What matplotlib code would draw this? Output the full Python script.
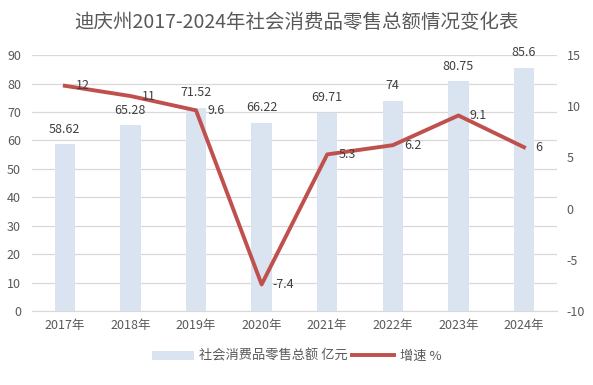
import matplotlib
matplotlib.use('Agg')
import matplotlib.pyplot as plt
import numpy as np

plt.rcParams['font.family'] = ['Noto Sans CJK SC', 'DejaVu Sans']
plt.rcParams['axes.unicode_minus'] = False

years = ['2017年', '2018年', '2019年', '2020年', '2021年', '2022年', '2023年', '2024年']
sales = [58.62, 65.28, 71.52, 66.22, 69.71, 74, 80.75, 85.6]
growth = [12, 11, 9.6, -7.4, 5.3, 6.2, 9.1, 6]
sales_labels = ['58.62', '65.28', '71.52', '66.22', '69.71', '74', '80.75', '85.6']
growth_labels = ['12', '11', '9.6', '-7.4', '5.3', '6.2', '9.1', '6']

txt = '#595959'
bar_c = '#dae3f0'
line_c = '#c0504d'

fig = plt.figure(figsize=(5.93, 3.85), dpi=100)
ax = fig.add_axes([0.054, 0.192, 0.885, 0.665])
ax2 = ax.twinx()

x = np.arange(len(years))
bars = ax.bar(x, sales, width=0.31, color=bar_c, label='社会消费品零售总额 亿元', zorder=2)
ax.set_ylim(0, 90)
ax.set_yticks(range(0, 91, 10))
ax.set_xlim(-0.5, len(years) - 0.5)
ax.set_xticks(x)
ax.set_xticklabels(years)
ax.grid(axis='y', color='#d9d9d9', linewidth=0.9, zorder=0)
ax.set_axisbelow(True)
for xi, v, s in zip(x, sales, sales_labels):
    ax.annotate(s, (xi, v), xytext=(0, 6), textcoords='offset points',
                ha='center', va='bottom', fontsize=9, color='#404040')

ln, = ax2.plot(x, growth, color=line_c, linewidth=2.8, label='增速 %', zorder=3)
ax2.set_ylim(-10, 15)
ax2.set_yticks(range(-10, 16, 5))
for xi, v, s in zip(x, growth, growth_labels):
    ax2.annotate(s, (xi, v), xytext=(8, 0), textcoords='offset points',
                 ha='left', va='center', fontsize=9, color='#404040')

for a in (ax, ax2):
    for sp in a.spines.values():
        sp.set_visible(False)
    a.tick_params(length=0, labelsize=9, colors=txt)
ax.spines['bottom'].set_visible(True)
ax.spines['bottom'].set_color('#d9d9d9')
ax.tick_params(axis='x', pad=6)
ax.tick_params(axis='y', pad=8)
ax2.tick_params(axis='y', pad=7)

fig.suptitle('迪庆州2017-2024年社会消费品零售总额情况变化表', x=0.5, y=0.97,
             fontsize=14, color=txt)

fig.legend(handles=[bars, ln], loc='center', bbox_to_anchor=(0.5, 0.075), ncol=2,
           frameon=False, fontsize=9.5, labelcolor=txt, handlelength=3.2,
           columnspacing=0.3, handletextpad=0.4)

fig.savefig('out.png', dpi=100)
